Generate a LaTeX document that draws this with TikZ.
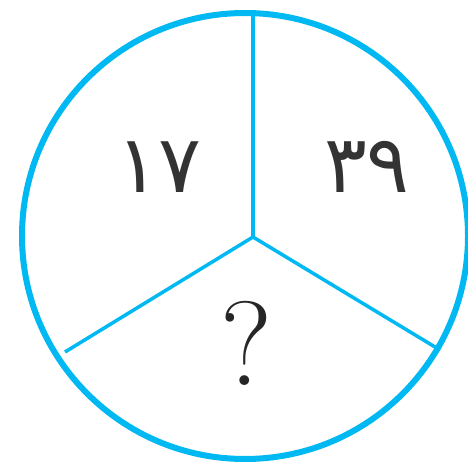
\documentclass[tikz,border=0pt]{standalone}
\usepackage{fontspec}
\newfontfamily\arabicfont[Script=Arabic]{DejaVu Sans}
\definecolor{ring}{RGB}{0,184,242}
\begin{document}
\begin{tikzpicture}[x=1pt,y=-1pt,
  ringline/.style={draw=ring,line width=6pt},
  spoke/.style={draw=ring,line width=3.5pt},
  digits/.style={text=black!80,inner sep=0pt,font=\arabicfont\fontsize{80}{80}\selectfont},
  qmark/.style={text=black!85,inner sep=0pt,font=\fontsize{120}{120}\selectfont}]
\useasboundingbox (0,0) rectangle (468,465);
\coordinate (c) at (253,237);
\coordinate (top) at (253,12);
\coordinate (left) at (65,352);
\coordinate (right) at (440,350);
\draw[spoke] (c) -- (top);
\draw[spoke] (c) -- (left);
\draw[spoke] (c) -- (right);
\node[ringline,circle,minimum size=446pt,inner sep=0pt] (ring) at (245,236) {};
\node[digits] (a) at (159,167) {۱۷};
\node[digits] (b) at (367,167) {۳۹};
\node[qmark] (q) at (246,343) {?};
\end{tikzpicture}
\end{document}
